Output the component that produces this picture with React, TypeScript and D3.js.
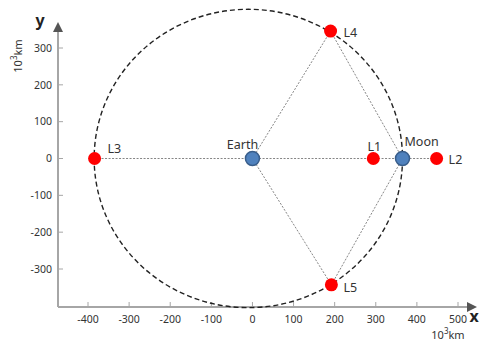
import React from "react";
import * as d3 from "d3";

const W = 480;
const H = 342;

// Bodies of the Earth–Moon system (10^3 km)
const bodyNames = ["Earth", "Moon"];
const bodyX = [0, 365];
const bodyY = [0, 0];

// Lagrange points (10^3 km)
const lagNames = ["L1", "L2", "L3", "L4", "L5"];
const lagX = [294, 448, -384, 190, 192];
const lagY = [0, 0, 0, 346, -343];

// Lunar orbit outline
const orbitCx = -10;
const orbitRx = 375;
const orbitRy = 405;

const xTicks = [-400, -300, -200, -100, 0, 100, 200, 300, 400, 500];
const yTicks = [-300, -200, -100, 0, 100, 200, 300];

// Connecting guide lines, by point name
const links: [string, string][] = [
  ["L3", "L2"],
  ["Earth", "L4"],
  ["Earth", "L5"],
  ["L4", "Moon"],
  ["L5", "Moon"],
];

export default function App() {
  const x = d3.scaleLinear().domain([-400, 500]).range([88, 458]);
  const y = d3.scaleLinear().domain([-300, 300]).range([269, 48]);

  const axisX0 = 58; // pixel position of vertical axis
  const axisY0 = 307; // pixel position of horizontal axis
  const axisColor = "#a6a6a6";
  const textColor = "#333";
  const font = "'Noto Sans', 'DejaVu Sans', sans-serif";

  const pos: Record<string, [number, number]> = {};
  bodyNames.forEach((n, i) => (pos[n] = [x(bodyX[i]), y(bodyY[i])]));
  lagNames.forEach((n, i) => (pos[n] = [x(lagX[i]), y(lagY[i])]));

  const orbitPx = {
    cx: x(orbitCx),
    cy: y(0),
    rx: x(orbitCx + orbitRx) - x(orbitCx),
    ry: y(0) - y(orbitRy),
  };

  const labelOffsets: Record<string, [number, number, string]> = {
    Earth: [-10, -14, "middle"],
    Moon: [2, -17, "start"],
    L1: [1, -12, "middle"],
    L2: [12, 1, "start"],
    L3: [13, -10, "start"],
    L4: [13, 2, "start"],
    L5: [12, 3, "start"],
  };

  return (
    <svg
      width={W}
      height={H}
      style={{ position: "absolute", left: 0, top: 0, background: "#fff" }}
      fontFamily={font}
    >
      <defs>
        <marker
          id="arrow"
          viewBox="0 0 10 10"
          refX="5"
          refY="5"
          markerWidth="5"
          markerHeight="6"
          orient="auto"
        >
          <path d="M0,0 L10,5 L0,10 z" fill="#555" />
        </marker>
      </defs>

      {/* axes */}
      <line
        x1={axisX0}
        y1={axisY0}
        x2={axisX0}
        y2={27}
        stroke={axisColor}
        strokeWidth={2}
        markerEnd="url(#arrow)"
      />
      <line
        x1={axisX0}
        y1={axisY0}
        x2={472}
        y2={axisY0}
        stroke={axisColor}
        strokeWidth={2}
        markerEnd="url(#arrow)"
      />

      {yTicks.map((t) => (
        <g key={"y" + t}>
          <line
            x1={axisX0}
            x2={axisX0 + 5}
            y1={y(t)}
            y2={y(t)}
            stroke={axisColor}
            strokeWidth={1}
          />
          <text
            x={axisX0 - 6}
            y={y(t)}
            dy="0.35em"
            textAnchor="end"
            fontSize={10.5}
            fill={textColor}
          >
            {t}
          </text>
        </g>
      ))}
      {xTicks.map((t) => (
        <g key={"x" + t}>
          <line
            x1={x(t)}
            x2={x(t)}
            y1={axisY0}
            y2={axisY0 - 5}
            stroke={axisColor}
            strokeWidth={1}
          />
          <text
            x={x(t)}
            y={axisY0 + 16}
            textAnchor="middle"
            fontSize={10.5}
            fill={textColor}
          >
            {t}
          </text>
        </g>
      ))}

      {/* axis names and units */}
      <text x={40} y={26} fontSize={16} fontWeight="bold" fill="#222" textAnchor="middle">
        y
      </text>
      <text x={474} y={322} fontSize={16} fontWeight="bold" fill="#222" textAnchor="middle">
        x
      </text>
      <text
        transform="translate(22,56) rotate(-90)"
        fontSize={11}
        fill={textColor}
        textAnchor="middle"
      >
        10
        <tspan dy={-5} fontSize={8}>3</tspan>
        <tspan dy={5}>km</tspan>
      </text>
      <text x={448} y={339} fontSize={11} fill={textColor} textAnchor="middle">
        10
        <tspan dy={-5} fontSize={8}>3</tspan>
        <tspan dy={5}>km</tspan>
      </text>

      {/* lunar orbit */}
      <ellipse
        cx={orbitPx.cx}
        cy={orbitPx.cy}
        rx={orbitPx.rx}
        ry={orbitPx.ry}
        fill="none"
        stroke="#222"
        strokeWidth={1.4}
        strokeDasharray="5,3"
      />

      {/* guide lines */}
      {links.map(([a, b]) => (
        <line
          key={a + b}
          x1={pos[a][0]}
          y1={pos[a][1]}
          x2={pos[b][0]}
          y2={pos[b][1]}
          stroke="#666"
          strokeWidth={0.8}
          strokeDasharray="2,1.5"
        />
      ))}

      {/* Lagrange points */}
      {lagNames.map((n) => (
        <circle key={n} cx={pos[n][0]} cy={pos[n][1]} r={6.5} fill="#ff0000" />
      ))}
      {/* Earth and Moon */}
      {bodyNames.map((n) => (
        <circle
          key={n}
          cx={pos[n][0]}
          cy={pos[n][1]}
          r={7}
          fill="#4f81bd"
          stroke="#385d8a"
          strokeWidth={1.5}
        />
      ))}

      {/* labels */}
      {[...bodyNames, ...lagNames].map((n) => {
        const [dx, dy, anchor] = labelOffsets[n];
        return (
          <text
            key={"lbl" + n}
            x={pos[n][0] + dx}
            y={pos[n][1] + dy}
            dy="0.35em"
            textAnchor={anchor}
            fontSize={12.5}
            fill={textColor}
          >
            {n}
          </text>
        );
      })}
    </svg>
  );
}
